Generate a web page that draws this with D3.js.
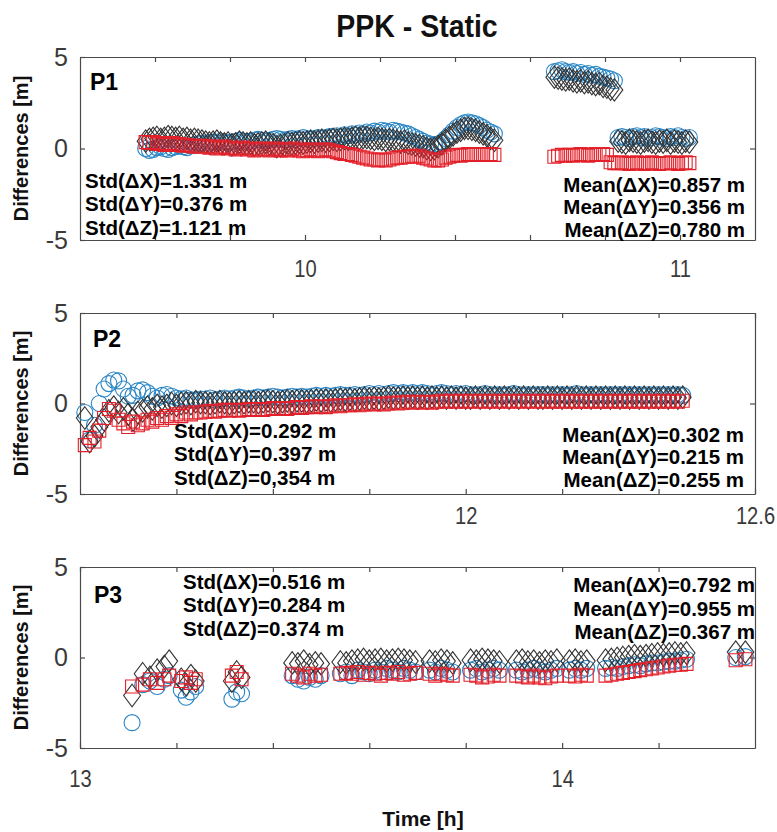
<!DOCTYPE html>
<html>
<head>
<meta charset="utf-8">
<script src="https://cdn.jsdelivr.net/npm/d3@7/dist/d3.min.js"></script>
<style>
  html, body { margin: 0; padding: 0; background: #fff; }
  svg { display: block; }
</style>
</head>
<body>
<svg id="chart" width="777" height="832"></svg>
<script>
// ---------------- DATA ----------------
const chartTitle = "PPK - Static";
const panelNames = ["P1", "P2", "P3"];
const yTickValues = [-5, 0, 5];
const yTickLabels = ["-5", "0", "5"];

// Panel P1 (time in hours)
const p1Time = [9.575, 9.585, 9.595, 9.605, 9.615, 9.625, 9.635, 9.645, 9.655, 9.665, 9.675, 9.685, 9.695, 9.705, 9.715,
  9.725, 9.735, 9.745, 9.755, 9.765, 9.775, 9.785, 9.795, 9.805, 9.815, 9.825, 9.835, 9.845, 9.855, 9.865, 9.875, 9.885, 9.895, 9.905, 9.915, 9.925, 9.935, 9.945, 9.955, 9.965, 9.975, 9.985, 9.995, 10.005, 10.015, 10.025, 10.035, 10.045, 10.055, 10.065,
  10.075, 10.085, 10.095, 10.105, 10.115, 10.125, 10.135, 10.145, 10.155,
  10.165, 10.175, 10.185, 10.195, 10.205, 10.215, 10.225, 10.235, 10.245, 10.255, 10.265, 10.275,
  10.285, 10.295, 10.305, 10.315, 10.325, 10.335, 10.345, 10.355, 10.365,
  10.375, 10.385, 10.395, 10.405, 10.415, 10.425, 10.435, 10.445,
  10.455, 10.465, 10.475, 10.485, 10.495, 10.505,
  10.665, 10.675, 10.685, 10.695, 10.705, 10.715, 10.725, 10.735, 10.745, 10.755, 10.765, 10.775, 10.785, 10.795, 10.805, 10.815, 10.825,
  10.835, 10.845, 10.855, 10.865, 10.875, 10.885, 10.895, 10.905, 10.915, 10.925, 10.935, 10.945, 10.955, 10.965, 10.975, 10.985, 10.995, 11.005, 11.015, 11.025];
const p1DX = [0.0, -0.1, -0.05, 0.05, 0.1, 0.0, -0.05, 0.05, 0.1, 0.15, 0.1, 0.05, 0.15, 0.2, 0.25,
  0.3, 0.25, 0.3, 0.35, 0.3, 0.4, 0.35, 0.3, 0.35, 0.4, 0.45, 0.4, 0.35, 0.4, 0.45, 0.5, 0.45, 0.4, 0.45, 0.5, 0.55, 0.5, 0.45, 0.5, 0.55, 0.5, 0.55, 0.6, 0.55, 0.5, 0.55, 0.6, 0.55, 0.6, 0.65,
  0.65, 0.7, 0.65, 0.75, 0.7, 0.8, 0.75, 0.85, 0.8,
  0.9, 0.85, 0.95, 0.9, 1.0, 0.95, 0.9, 1.0, 0.95, 0.9, 0.85, 0.8,
  0.7, 0.6, 0.5, 0.4, 0.3, 0.25, 0.2, 0.25, 0.35,
  0.55, 0.75, 0.95, 1.15, 1.3, 1.4, 1.45, 1.4,
  1.35, 1.25, 1.15, 1.0, 0.9, 0.8,
  4.2, 4.25, 4.3, 4.2, 4.15, 4.2, 4.1, 4.15, 4.05, 4.1, 4.0, 4.05, 3.95, 3.9, 3.85, 3.8, 3.7,
  0.6, 0.65, 0.6, 0.55, 0.65, 0.7, 0.6, 0.65, 0.55, 0.6, 0.7, 0.65, 0.6, 0.55, 0.65, 0.6, 0.7, 0.6, 0.55, 0.6];
const p1DY = [0.4, 0.5, 0.55, 0.6, 0.5, 0.55, 0.65, 0.6, 0.55, 0.6, 0.5, 0.55, 0.45, 0.5, 0.45,
  0.4, 0.35, 0.3, 0.35, 0.4, 0.3, 0.25, 0.3, 0.2, 0.25, 0.35, 0.3, 0.25, 0.3, 0.2, 0.25, 0.3, 0.35, 0.25, 0.2, 0.1, 0.15, 0.2, 0.3, 0.25, 0.3, 0.35, 0.3, 0.35, 0.4, 0.35, 0.4, 0.45, 0.4, 0.45,
  0.5, 0.45, 0.5, 0.55, 0.5, 0.55, 0.6, 0.55, 0.6,
  0.6, 0.55, 0.5, 0.55, 0.5, 0.45, 0.5, 0.45, 0.4, 0.35, 0.4, 0.3,
  0.25, 0.2, 0.15, 0.1, 0.0, -0.05, 0.0, 0.1, 0.25,
  0.45, 0.6, 0.75, 0.9, 1.0, 1.1, 1.1, 1.05,
  1.0, 0.9, 0.8, 0.7, 0.55, 0.45,
  3.9, 3.85, 3.8, 3.75, 3.8, 3.7, 3.65, 3.7, 3.6, 3.65, 3.55, 3.5, 3.55, 3.4, 3.35, 3.25, 3.2,
  0.4, 0.35, 0.3, 0.45, 0.4, 0.35, 0.3, 0.4, 0.45, 0.35, 0.3, 0.4, 0.35, 0.45, 0.3, 0.4, 0.35, 0.3, 0.4, 0.35];
const p1DZ = [0.35, 0.3, 0.35, 0.25, 0.3, 0.2, 0.25, 0.3, 0.2, 0.25, 0.15, 0.2, 0.15, 0.1, 0.15,
  0.1, 0.15, 0.05, 0.1, 0.0, 0.05, 0.1, 0.0, 0.05, -0.05, 0.0, 0.05, -0.05, 0.0, -0.1, -0.05, 0.0, -0.05, -0.1, -0.05, 0.0, -0.1, -0.05, -0.1, -0.05, 0.0, -0.1, -0.15, -0.1, -0.05, -0.1, -0.15, -0.1, -0.05, -0.1,
  -0.15, -0.2, -0.25, -0.3, -0.3, -0.35, -0.4, -0.45, -0.5,
  -0.55, -0.6, -0.6, -0.65, -0.6, -0.65, -0.6, -0.55, -0.5, -0.5, -0.45, -0.45,
  -0.4, -0.45, -0.4, -0.5, -0.55, -0.6, -0.65, -0.65, -0.6,
  -0.5, -0.45, -0.4, -0.35, -0.4, -0.35, -0.3, -0.35,
  -0.3, -0.35, -0.3, -0.35, -0.3, -0.35,
  -0.45, -0.4, -0.35, -0.4, -0.35, -0.4, -0.35, -0.3, -0.35, -0.4, -0.35, -0.3, -0.35, -0.3, -0.35, -0.75, -0.8,
  -0.8, -0.75, -0.8, -0.85, -0.8, -0.75, -0.8, -0.85, -0.8, -0.75, -0.8, -0.85, -0.8, -0.8, -0.75, -0.8, -0.85, -0.8, -0.75, -0.8];

// Panel P2
const p2Time = [11.21, 11.22, 11.23, 11.24, 11.25, 11.26, 11.27, 11.28, 11.29, 11.30, 11.31, 11.32, 11.33, 11.34, 11.35, 11.36, 11.37, 11.38, 11.39, 11.40, 11.41, 11.42, 11.43, 11.44, 11.45,
  11.46, 11.47, 11.48, 11.49, 11.50, 11.51, 11.52, 11.53, 11.54, 11.55,
  11.56, 11.57, 11.58, 11.59, 11.60, 11.61, 11.62, 11.63, 11.64, 11.65,
  11.66, 11.67, 11.68, 11.69, 11.70, 11.71, 11.72, 11.73, 11.74, 11.75,
  11.76, 11.77, 11.78, 11.79, 11.80, 11.81, 11.82, 11.83, 11.84, 11.85,
  11.86, 11.87, 11.88, 11.89, 11.90, 11.91, 11.92, 11.93, 11.94, 11.95,
  11.96, 11.97, 11.98, 11.99, 12.00, 12.01, 12.02, 12.03, 12.04, 12.05,
  12.06, 12.07, 12.08, 12.09, 12.10, 12.11, 12.12, 12.13, 12.14, 12.15,
  12.16, 12.17, 12.18, 12.19, 12.20, 12.21, 12.22, 12.23, 12.24, 12.25,
  12.26, 12.27, 12.28, 12.29, 12.30, 12.31, 12.32, 12.33, 12.34, 12.35,
  12.36, 12.37, 12.38, 12.39, 12.40, 12.41, 12.42, 12.43, 12.44, 12.45];
const p2DX = [-0.5, -2.0, -1.2, 0.0, 0.8, 1.1, 1.3, 1.25, 0.8, 0.4, 0.45, 0.7, 0.75, 0.6, 0.4, 0.3, 0.45, 0.5, 0.4, 0.3, 0.25, 0.3, 0.2, 0.2, 0.25,
  0.25, 0.3, 0.2, 0.25, 0.3, 0.25, 0.3, 0.35, 0.3, 0.25,
  0.3, 0.35, 0.3, 0.35, 0.4, 0.35, 0.3, 0.35, 0.4, 0.35,
  0.4, 0.35, 0.4, 0.45, 0.4, 0.45, 0.4, 0.45, 0.5, 0.45,
  0.45, 0.5, 0.45, 0.5, 0.55, 0.5, 0.55, 0.5, 0.55, 0.6,
  0.55, 0.6, 0.55, 0.6, 0.55, 0.6, 0.55, 0.5, 0.55, 0.6,
  0.55, 0.5, 0.55, 0.5, 0.55, 0.5, 0.45, 0.5, 0.55, 0.5,
  0.45, 0.5, 0.45, 0.5, 0.55, 0.5, 0.45, 0.5, 0.45, 0.5,
  0.5, 0.45, 0.5, 0.45, 0.5, 0.45, 0.5, 0.55, 0.5, 0.45,
  0.5, 0.45, 0.5, 0.45, 0.5, 0.45, 0.5, 0.45, 0.5, 0.45,
  0.5, 0.45, 0.5, 0.45, 0.5, 0.45, 0.5, 0.45, 0.5, 0.45];
const p2DY = [-0.8, -2.1, -1.8, -1.3, -0.9, -0.4, -0.2, -0.5, -0.3, -0.6, -0.9, -0.5, -0.4, -0.2, -0.3, -0.1, -0.2, -0.1, 0.0, -0.1, 0.0, 0.05, 0.0, 0.1, 0.05,
  0.05, 0.0, 0.05, 0.1, 0.05, 0.0, 0.05, 0.1, 0.05, 0.1,
  0.1, 0.05, 0.1, 0.15, 0.1, 0.05, 0.1, 0.15, 0.1, 0.15,
  0.15, 0.1, 0.15, 0.2, 0.15, 0.2, 0.15, 0.2, 0.25, 0.2,
  0.25, 0.2, 0.25, 0.3, 0.25, 0.3, 0.25, 0.3, 0.35, 0.3,
  0.3, 0.35, 0.3, 0.35, 0.3, 0.35, 0.3, 0.35, 0.3, 0.35,
  0.3, 0.35, 0.3, 0.35, 0.3, 0.3, 0.35, 0.3, 0.35, 0.3,
  0.35, 0.3, 0.35, 0.3, 0.35, 0.3, 0.35, 0.3, 0.35, 0.3,
  0.3, 0.35, 0.3, 0.35, 0.3, 0.35, 0.3, 0.35, 0.3, 0.35,
  0.3, 0.35, 0.3, 0.35, 0.3, 0.35, 0.3, 0.35, 0.3, 0.35,
  0.3, 0.35, 0.3, 0.35, 0.3, 0.35, 0.3, 0.35, 0.3, 0.35];
const p2DZ = [-2.3, -1.9, -2.1, -1.5, -0.8, -0.3, -0.4, -0.9, -1.1, -1.3, -1.0, -1.2, -1.1, -0.9, -1.0, -0.8, -0.9, -0.7, -0.8, -0.6, -0.7, -0.5, -0.6, -0.5, -0.5,
  -0.45, -0.4, -0.45, -0.4, -0.35, -0.4, -0.35, -0.4, -0.35, -0.3,
  -0.35, -0.3, -0.35, -0.3, -0.25, -0.3, -0.25, -0.3, -0.25, -0.2,
  -0.25, -0.2, -0.15, -0.2, -0.15, -0.2, -0.15, -0.1, -0.15, -0.1,
  -0.1, -0.05, -0.1, -0.05, 0.0, -0.05, 0.0, -0.05, 0.0, 0.05,
  0.0, 0.05, 0.1, 0.05, 0.1, 0.05, 0.1, 0.05, 0.1, 0.15,
  0.1, 0.15, 0.1, 0.15, 0.1, 0.15, 0.1, 0.15, 0.1, 0.15,
  0.1, 0.15, 0.1, 0.15, 0.1, 0.15, 0.1, 0.15, 0.1, 0.15,
  0.1, 0.15, 0.1, 0.15, 0.1, 0.15, 0.1, 0.15, 0.1, 0.15,
  0.1, 0.15, 0.1, 0.15, 0.1, 0.15, 0.1, 0.15, 0.1, 0.15,
  0.1, 0.15, 0.1, 0.15, 0.1, 0.15, 0.1, 0.15, 0.1, 0.15];

// Panel P3
const p3Time = [13.108, 13.13, 13.145, 13.16, 13.175, 13.185, 13.21, 13.22, 13.23, 13.24,
  13.315, 13.325, 13.335,
  13.44, 13.452, 13.464, 13.476, 13.488, 13.50,
  13.54, 13.552, 13.564, 13.576, 13.588, 13.60, 13.612, 13.624, 13.636, 13.648, 13.66, 13.672, 13.684, 13.696,
  13.725, 13.737, 13.749, 13.761, 13.773,
  13.81, 13.822, 13.834, 13.846, 13.858, 13.87,
  13.905, 13.917, 13.929, 13.941, 13.953, 13.965, 13.977, 13.989,
  14.015, 14.027, 14.039, 14.051,
  14.09, 14.102, 14.114, 14.126, 14.138, 14.15, 14.162, 14.174, 14.186, 14.198, 14.21, 14.222, 14.234, 14.246, 14.258,
  14.36, 14.38];
const p3DX = [-3.6, -1.5, -1.3, -1.6, -1.2, -1.0, -1.8, -2.2, -1.9, -1.6,
  -2.3, -1.9, -2.0,
  -1.0, -1.2, -1.3, -1.1, -1.2, -1.0,
  -0.9, -0.8, -1.0, -0.7, -0.8, -0.9, -0.7, -0.8, -0.6, -0.7, -0.8, -0.6, -0.7, -0.8,
  -0.7, -0.8, -0.6, -0.7, -0.8,
  -0.7, -0.6, -0.8, -0.7, -0.6, -0.7,
  -0.7, -0.8, -0.7, -0.6, -0.7, -0.8, -0.7, -0.6,
  -0.7, -0.6, -0.7, -0.6,
  -0.6, -0.55, -0.6, -0.5, -0.45, -0.4, -0.45, -0.35, -0.3, -0.3, -0.25, -0.2, -0.2, -0.15, -0.1,
  0.0, 0.05];
const p3DY = [-2.1, -0.9, -1.1, -0.7, -0.5, -0.2, -1.2, -1.5, -1.0, -1.3,
  -1.3, -0.8, -1.1,
  -0.3, -0.35, -0.2, -0.4, -0.3, -0.35,
  -0.25, -0.3, -0.2, -0.15, -0.1, -0.2, -0.15, -0.1, -0.2, -0.15, -0.1, -0.15, -0.2, -0.25,
  -0.2, -0.25, -0.15, -0.2, -0.3,
  -0.15, -0.2, -0.1, -0.15, -0.2, -0.25,
  -0.2, -0.15, -0.25, -0.2, -0.3, -0.2, -0.25, -0.15,
  -0.2, -0.15, -0.25, -0.2,
  -0.15, -0.1, -0.05, 0.0, 0.05, 0.1, 0.05, 0.1, 0.15, 0.2, 0.15, 0.2, 0.25, 0.2, 0.25,
  0.3, 0.3];
const p3DZ = [-1.6, -1.5, -1.2, -1.4, -1.2, -1.0, -1.3, -1.1, -1.4, -1.2,
  -1.0, -0.8, -1.2,
  -0.9, -1.0, -1.1, -0.9, -1.0, -0.95,
  -0.9, -0.85, -0.9, -0.8, -0.95, -0.85, -0.9, -1.0, -0.85, -0.9, -0.8, -0.95, -0.9, -0.85,
  -0.9, -1.0, -0.9, -0.95, -1.0,
  -0.95, -1.0, -1.1, -1.05, -0.95, -1.0,
  -1.0, -1.05, -1.1, -1.0, -1.1, -1.15, -1.05, -1.0,
  -1.0, -1.05, -0.95, -1.0,
  -1.0, -0.95, -0.9, -0.85, -0.8, -0.75, -0.7, -0.65, -0.6, -0.55, -0.5, -0.45, -0.4, -0.4, -0.35,
  -0.15, -0.1];

// X-axis ticks and labels per panel
const p1XTicks = [9.6, 9.8, 10.0, 10.2, 10.4, 10.6, 10.8, 11.0];
const p1XLabels = ["", "", "10", "", "", "", "", "11"];
const p2XTicks = [11.4, 11.6, 11.8, 12.0, 12.2, 12.4, 12.6];
const p2XLabels = ["", "", "", "12", "", "", "12.6"];
const p3XTicks = [13.0, 13.2, 13.4, 13.6, 13.8, 14.0, 14.2];
const p3XLabels = ["13", "", "", "", "", "14", ""];

// Statistics annotations
const components = ["ΔX", "ΔY", "ΔZ"];
const p1Std = ["1.331", "0.376", "1.121"];
const p1Mean = ["0.857", "0.356", "0.780"];
const p2Std = ["0.292", "0.397", "0,354"];
const p2Mean = ["0.302", "0.215", "0.255"];
const p3Std = ["0.516", "0.284", "0.374"];
const p3Mean = ["0.792", "0.955", "0.367"];

// ---------------- LAYOUT ----------------
const svg = d3.select("#chart");
const left = 80, right = 755;
const colX = "#2b86c5", colY = "#333333", colZ = "#e3202a";
const sansBold = "'Liberation Sans', Arial, sans-serif";

const panels = [
  { name: panelNames[0], time: p1Time, dx: p1DX, dy: p1DY, dz: p1DZ, domain: [9.4, 11.2], top: 57, bottom: 240,
    ticks: p1XTicks, labels: p1XLabels, pad: 20, pPos: [90, 90],
    std: p1Std, mean: p1Mean, stdX: 85, stdY: [188, 211, 235], meanX: 745, meanY: [192, 214, 237] },
  { name: panelNames[1], time: p2Time, dx: p2DX, dy: p2DY, dz: p2DZ, domain: [11.2, 12.6], top: 313, bottom: 494,
    ticks: p2XTicks, labels: p2XLabels, pad: 13, pPos: [93, 347],
    std: p2Std, mean: p2Mean, stdX: 174, stdY: [438, 461, 485], meanX: 744, meanY: [442, 464, 487] },
  { name: panelNames[2], time: p3Time, dx: p3DX, dy: p3DY, dz: p3DZ, domain: [13.0, 14.4], top: 567, bottom: 748,
    ticks: p3XTicks, labels: p3XLabels, pad: 22, pPos: [94, 603],
    std: p3Std, mean: p3Mean, stdX: 183, stdY: [589, 612, 636], meanX: 755, meanY: [592, 616, 639] }
];

// custom diamond symbol (taller than wide, like the reference)
const tallDiamond = {
  draw(ctx, size) {
    const h = Math.sqrt(size) * 0.62, w = h * 0.75;
    ctx.moveTo(0, -h); ctx.lineTo(w, 0); ctx.lineTo(0, h); ctx.lineTo(-w, 0); ctx.closePath();
  }
};
const circlePath = d3.symbol().type(d3.symbolCircle).size(Math.PI * 8 * 8)();
const diamondPath = d3.symbol().type(tallDiamond).size(330)();
const squarePath = d3.symbol().type(d3.symbolSquare).size(13 * 13)();

// Title
svg.append("g").attr("transform", "translate(417,37) scale(0.89,1)")
  .append("text").attr("text-anchor", "middle")
  .style("font-family", sansBold).style("font-weight", "bold").style("font-size", "32px")
  .attr("fill", "#111").text(chartTitle);

panels.forEach(p => {
  const x = d3.scaleLinear().domain(p.domain).range([left, right]);
  const y = d3.scaleLinear().domain([-5, 5]).range([p.bottom, p.top]);
  const g = svg.append("g");

  const styleAxis = sel => {
    sel.select(".domain").attr("stroke", "#4a4a4a").attr("stroke-width", 1.2);
    sel.selectAll(".tick line").attr("stroke", "#4a4a4a").attr("stroke-width", 1.2);
  };
  g.append("g").attr("transform", `translate(0,${p.bottom})`)
    .call(d3.axisBottom(x).tickValues(p.ticks).tickFormat((d, i) => p.labels[i]).tickSizeInner(-5).tickSizeOuter(0).tickPadding(p.pad))
    .call(styleAxis)
    .call(s => s.selectAll("text").attr("transform", "scale(0.84,1)")
      .style("font-family", "'Liberation Sans', Arial, sans-serif").style("font-size", "24px").attr("fill", "#3a3a3a"));
  g.append("g").attr("transform", `translate(0,${p.top})`)
    .call(d3.axisTop(x).tickValues(p.ticks).tickFormat("").tickSizeInner(-5).tickSizeOuter(0))
    .call(styleAxis);
  g.append("g").attr("transform", `translate(${left},0)`)
    .call(d3.axisLeft(y).tickValues(yTickValues).tickFormat((d, i) => yTickLabels[i]).tickSizeInner(-5).tickSizeOuter(0).tickPadding(12))
    .call(styleAxis)
    .call(s => s.selectAll("text").style("font-family", "'Liberation Sans', Arial, sans-serif").style("font-size", "25px").attr("fill", "#3a3a3a"));
  g.append("g").attr("transform", `translate(${right},0)`)
    .call(d3.axisRight(y).tickValues([0]).tickFormat("").tickSizeInner(-5).tickSizeOuter(0))
    .call(styleAxis);

  // y label
  g.append("text")
    .attr("transform", `translate(28,${(p.top + p.bottom) / 2}) rotate(-90)`)
    .attr("text-anchor", "middle")
    .style("font-family", sansBold).style("font-weight", "bold").style("font-size", "20px")
    .attr("fill", "#111").text("Differences [m]");

  // data markers
  const pts = p.time.map((t, i) => ({ t, dx: p.dx[i], dy: p.dy[i], dz: p.dz[i] }));
  const drawSeries = (key, path, color) => {
    g.append("g").selectAll("path").data(pts.filter(d => d[key] != null)).join("path")
      .attr("d", path)
      .attr("transform", d => `translate(${x(d.t)},${y(d[key])})`)
      .attr("fill", "none").attr("stroke", color).attr("stroke-width", 1.1);
  };
  drawSeries("dx", circlePath, colX);
  drawSeries("dy", diamondPath, colY);
  drawSeries("dz", squarePath, colZ);

  // panel label
  g.append("text").attr("x", p.pPos[0]).attr("y", p.pPos[1])
    .style("font-family", sansBold).style("font-weight", "bold").style("font-size", "23px")
    .attr("fill", "#000").text(p.name);

  // statistics
  components.forEach((c, i) => {
    g.append("text").attr("x", p.stdX).attr("y", p.stdY[i])
      .style("font-family", sansBold).style("font-weight", "bold").style("font-size", "20.5px")
      .attr("fill", "#000").text(`Std(${c})=${p.std[i]} m`);
    g.append("text").attr("x", p.meanX).attr("y", p.meanY[i]).attr("text-anchor", "end")
      .style("font-family", sansBold).style("font-weight", "bold").style("font-size", "20.5px")
      .attr("fill", "#000").text(`Mean(${c})=${p.mean[i]} m`);
  });
});

// x label
svg.append("text").attr("x", 423).attr("y", 826).attr("text-anchor", "middle")
  .style("font-family", sansBold).style("font-weight", "bold").style("font-size", "21px")
  .attr("fill", "#111").text("Time [h]");
</script>
</body>
</html>
